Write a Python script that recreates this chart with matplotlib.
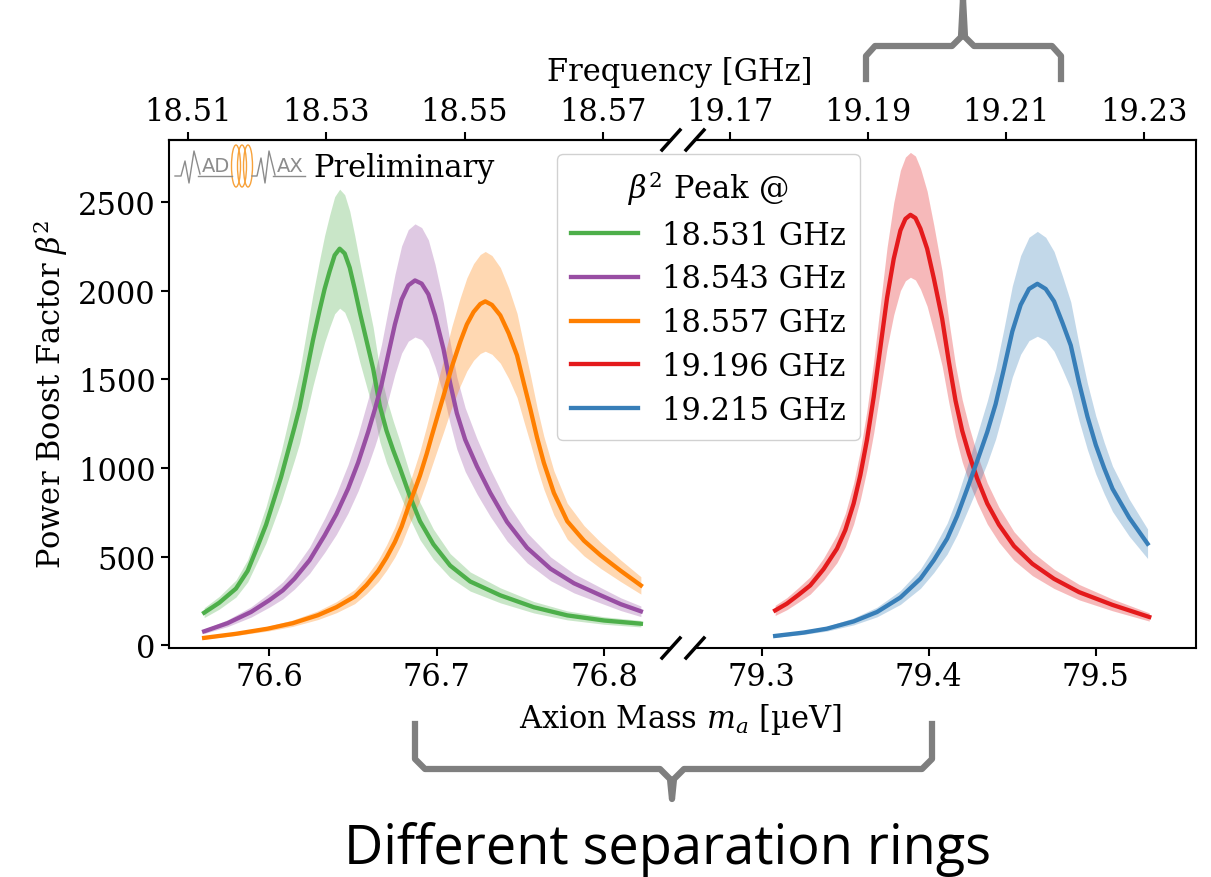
import numpy as np
import matplotlib.pyplot as plt
from matplotlib.lines import Line2D
from matplotlib.patches import Ellipse

plt.rcParams['font.family'] = 'DejaVu Serif'
plt.rcParams['mathtext.fontset'] = 'dejavuserif'

W, H = 1211, 878
UEV_PER_GHZ = 4.135667

labels = ["18.531 GHz", "18.543 GHz", "18.557 GHz", "19.196 GHz", "19.215 GHz"]
colors = ["#4daf4a", "#984ea3", "#ff7f00", "#e41a1c", "#377eb8"]

# axion mass [ueV] / boost factor
green_x = [76.561, 76.570, 76.580, 76.587, 76.593, 76.598, 76.603, 76.607, 76.611, 76.615,
           76.618, 76.622, 76.626, 76.630, 76.633, 76.636, 76.639, 76.642, 76.645, 76.648,
           76.651, 76.654, 76.658, 76.662, 76.666, 76.670, 76.674, 76.678, 76.684, 76.690,
           76.698, 76.708, 76.720, 76.738, 76.758, 76.778, 76.800, 76.822]
green_y = [184, 240, 320, 420, 560, 680, 830, 950, 1090, 1230,
           1340, 1530, 1720, 1890, 2010, 2110, 2200, 2237, 2210, 2130,
           2010, 1880, 1720, 1560, 1350, 1210, 1100, 1000, 840, 700,
           570, 450, 360, 282, 215, 169, 140, 122]

purple_x = [76.561, 76.575, 76.589, 76.600, 76.608, 76.615, 76.624, 76.633, 76.640, 76.647,
            76.653, 76.659, 76.663, 76.667, 76.671, 76.675, 76.679, 76.683, 76.687, 76.691,
            76.695, 76.699, 76.704, 76.708, 76.712, 76.717, 76.724, 76.732, 76.742, 76.754,
            76.768, 76.782, 76.798, 76.810, 76.822]
purple_y = [79, 125, 188, 255, 310, 376, 480, 620, 740, 883,
            1030, 1203, 1330, 1470, 1640, 1810, 1950, 2030, 2058, 2040,
            1980, 1860, 1673, 1480, 1310, 1160, 1010, 860, 696, 550,
            432, 350, 282, 232, 192]

orange_x = [76.561, 76.580, 76.599, 76.614, 76.629, 76.640, 76.651, 76.658, 76.665, 76.670,
            76.675, 76.679, 76.683, 76.687, 76.690, 76.694, 76.697, 76.701, 76.704, 76.709,
            76.714, 76.718, 76.722, 76.726, 76.729, 76.733, 76.738, 76.743, 76.748, 76.752,
            76.756, 76.760, 76.764, 76.770, 76.778, 76.788, 76.798, 76.810, 76.822]
orange_y = [42, 65, 94, 125, 170, 215, 275, 340, 420, 495,
            583, 670, 780, 880, 958, 1080, 1180, 1310, 1405, 1570,
            1711, 1810, 1880, 1925, 1940, 1920, 1861, 1760, 1635, 1480,
            1330, 1170, 1030, 860, 700, 590, 507, 420, 338]

red_x = [79.308, 79.315, 79.322, 79.329, 79.337, 79.345, 79.350, 79.355, 79.359, 79.363,
         79.367, 79.371, 79.375, 79.379, 79.383, 79.386, 79.389, 79.392, 79.395, 79.399,
         79.403, 79.408, 79.412, 79.416, 79.420, 79.424, 79.429, 79.435, 79.442, 79.451,
         79.462, 79.475, 79.490, 79.510, 79.532]
red_y = [197, 235, 285, 338, 430, 545, 650, 800, 960, 1160,
         1400, 1680, 1960, 2180, 2340, 2405, 2428, 2410, 2350, 2237,
         2070, 1842, 1600, 1380, 1210, 1080, 940, 800, 680, 560,
         460, 375, 300, 228, 160]

blue_x = [79.308, 79.325, 79.339, 79.355, 79.369, 79.383, 79.395, 79.403, 79.411, 79.417,
          79.423, 79.429, 79.435, 79.440, 79.445, 79.450, 79.455, 79.460, 79.465, 79.470,
          79.475, 79.480, 79.485, 79.490, 79.495, 79.500, 79.505, 79.510, 79.520, 79.531]
blue_y = [53, 72, 94, 135, 188, 270, 376, 480, 602, 730,
          883, 1040, 1203, 1360, 1560, 1770, 1920, 2010, 2039, 2010,
          1940, 1820, 1692, 1480, 1290, 1130, 1000, 883, 720, 573]

# relative half-width of the shaded band
band_frac = [0.15, 0.155, 0.145, 0.145, 0.145]

series = [(green_x, green_y), (purple_x, purple_y), (orange_x, orange_y),
          (red_x, red_y), (blue_x, blue_y)]
panel = [0, 0, 0, 1, 1]

left_ticks = [76.6, 76.7, 76.8]
right_ticks = [79.3, 79.4, 79.5]
left_top_ticks = [18.51, 18.53, 18.55, 18.57]
right_top_ticks = [19.17, 19.19, 19.21, 19.23]
y_ticks = [0, 500, 1000, 1500, 2000, 2500]


def px(x, y):
    return x / W, 1 - y / H


fig = plt.figure(figsize=(W / 100, H / 100), dpi=100)
bot, top = 1 - 649 / H, 1 - 141 / H
axL = fig.add_axes([169 / W, bot, (671 - 169) / W, top - bot])
axR = fig.add_axes([695 / W, bot, (1196 - 695) / W, top - bot])

fs = 22
lw = 3.1
for i, (x, y) in enumerate(series):
    ax = [axL, axR][panel[i]]
    x = np.array(x)
    y = np.array(y, dtype=float)
    f = band_frac[i]
    ax.fill_between(x, y * (1 - f), y * (1 + f), color=colors[i], alpha=0.3, lw=0)
    ax.plot(x, y, color=colors[i], lw=lw)

axL.set_xlim(76.54, 76.84)
axR.set_xlim(79.26, 79.56)
for ax in (axL, axR):
    ax.set_ylim(-15, 2850)
    ax.tick_params(labelsize=fs, length=6, width=1.5)
    for s in ax.spines.values():
        s.set_linewidth(1.5)
axL.set_xticks(left_ticks)
axR.set_xticks(right_ticks)
axL.set_yticks(y_ticks)
axR.set_yticks([])
axL.spines['right'].set_visible(False)
axR.spines['left'].set_visible(False)
axL.set_ylabel(r"Power Boost Factor $\beta^2$", fontsize=fs, labelpad=6)


def m2f(m):
    return m / UEV_PER_GHZ


def f2m(f):
    return f * UEV_PER_GHZ


for ax, tk in ((axL, left_top_ticks), (axR, right_top_ticks)):
    sec = ax.secondary_xaxis('top', functions=(m2f, f2m))
    sec.set_xticks(tk)
    sec.set_xticklabels([f"{t:.2f}" for t in tk])
    sec.tick_params(labelsize=fs, length=6, width=1.5)
    sec.spines['top'].set_linewidth(1.5)

fig.text(680 / W, 1 - 72 / H, "Frequency [GHz]", fontsize=fs, ha='center', va='center')
fig.text(680 / W, 1 - 720 / H, r"Axion Mass $m_a$ [µeV]", fontsize=fs, ha='center', va='center')

# break marks
dx, dy = 9 / 502, 10 / 508
for ax, xe in ((axL, 1), (axR, 0)):
    for ye in (0, 1):
        ax.plot([xe - dx, xe + dx], [ye - dy, ye + dy], transform=ax.transAxes,
                color='k', lw=2.5, clip_on=False)

# legend
handles = [Line2D([], [], color=c, lw=lw) for c in colors]
leg = fig.legend(handles, labels, title=r"$\beta^2$ Peak @", loc='upper left',
                 bbox_to_anchor=px(557, 155), borderaxespad=0, fontsize=fs, title_fontsize=fs,
                 handlelength=2.2, labelspacing=0.42, borderpad=0.45, fancybox=True,
                 framealpha=0.9, edgecolor='#cccccc')

# MADMAX logo + Preliminary
gray = '#8c8c8c'
zig1 = [(175, 177), (181, 177), (185, 162), (189, 184), (194, 152), (200, 175)]
zig2 = [(252, 177), (257, 177), (261, 159), (265, 184), (269, 152), (275, 176)]
for zz in (zig1, zig2):
    xs, ys = zip(*[px(a, b) for a, b in zz])
    fig.add_artist(Line2D(xs, ys, color=gray, lw=1.0))
for a, b in ((198, 232), (273, 305)):
    xs, ys = zip(px(a, 177), px(b, 177))
    fig.add_artist(Line2D(xs, ys, color=gray, lw=1.0))
fig.text(*px(216, 167), "AD", fontsize=14, color=gray, ha='center', va='center', family='DejaVu Sans')
fig.text(*px(290, 167), "AX", fontsize=14, color=gray, ha='center', va='center', family='DejaVu Sans')
for cx in (236, 242, 248):
    fig.add_artist(Ellipse(px(cx, 167), 9 / W, 42 / H, fill=False, edgecolor='#f7a23b', lw=1.0,
                           transform=fig.transFigure))
fig.text(*px(313, 168), "Preliminary", fontsize=fs, ha='left', va='center')

# braces
bc = '#7f7f7f'
top_brace = [(866, 80), (866, 57), (875, 47), (952, 47), (961, 38), (963, 0),
             (965, 38), (974, 47), (1052, 47), (1061, 57), (1061, 80)]
bot_brace = [(415, 725), (415, 760), (425, 770), (660, 770), (670, 780), (672, 800),
             (674, 780), (684, 770), (922, 770), (932, 760), (932, 725)]
for br in (top_brace, bot_brace):
    xs, ys = zip(*[px(a, b) for a, b in br])
    fig.add_artist(Line2D(xs, ys, color=bc, lw=4.5, solid_joinstyle='round'))

fig.text(*px(668, 850), "Different separation rings", fontsize=39, ha='center', va='center',
         family='Open Sans')

fig.savefig("out.png", dpi=100)
